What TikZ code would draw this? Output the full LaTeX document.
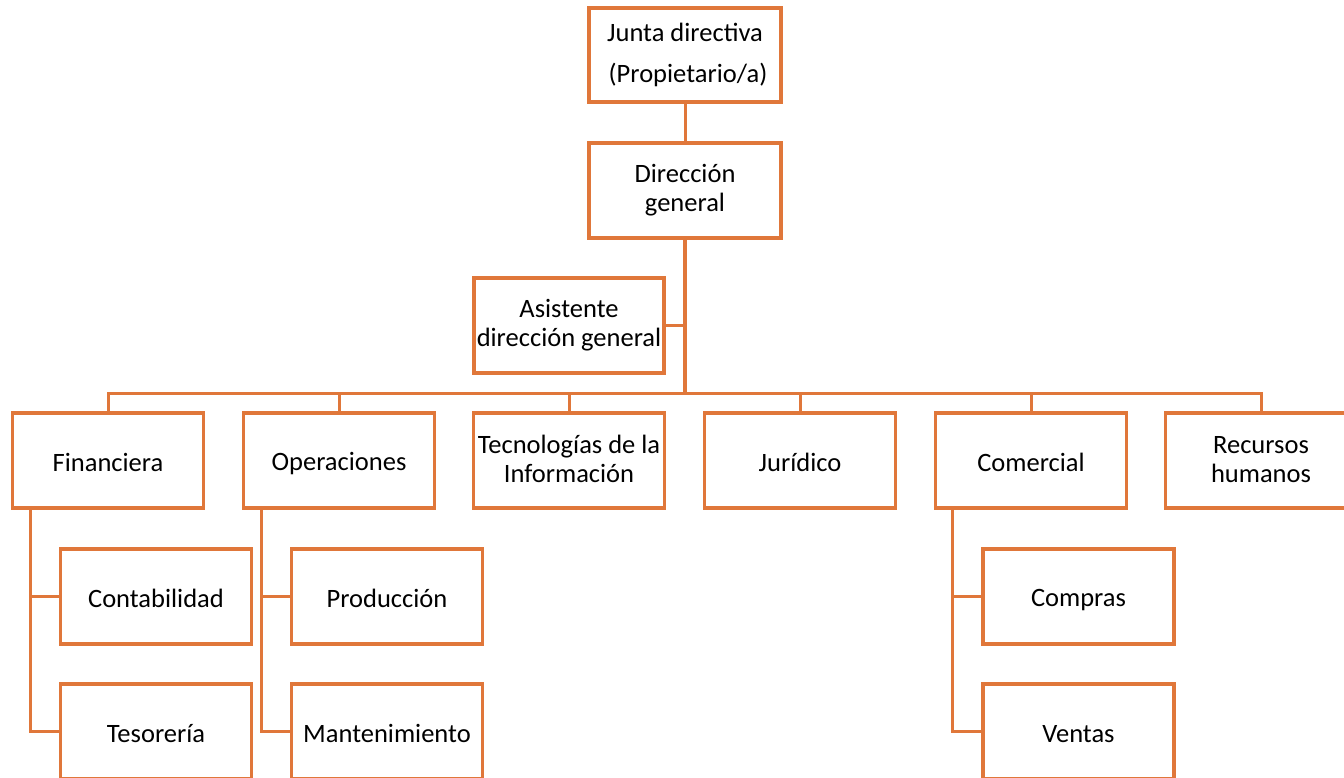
\documentclass[tikz,border=0pt]{standalone}
\usepackage{fontspec}
\setmainfont{Carlito}
\definecolor{org}{HTML}{E0773A}
\begin{document}
\begin{tikzpicture}[x=1pt,y=-1pt,
  box/.style={draw=org,line width=3.2pt,fill=white,minimum width=191pt,minimum height=95pt,inner sep=0pt,align=center,font=\fontsize{26.5}{29}\selectfont,execute at begin node=\rule{0pt}{23.5pt},execute at end node=\rule[-2.5pt]{0pt}{2.5pt}},
  conn/.style={draw=org,line width=3pt},
  trunk/.style={draw=org,line width=4.4pt}]
\useasboundingbox (0,0) rectangle (1344,778);
\clip (0,0) rectangle (1344,778);
\node[box,minimum width=192pt,minimum height=94pt] (junta) at (685,55) {Junta directiva\\[12pt] \ (Propietario/a)};
\node[box,minimum width=192pt] (dg) at (685,190.5) {Dirección\\general};
\node[box,minimum width=190pt] (asis) at (569,325.5) {Asistente\\dirección general};
\node[box] (fin) at (108,460.5) {Financiera};
\node[box] (ope) at (339,460.5) {Operaciones};
\node[box] (tec) at (569,460.5) {Tecnologías de la\\Información};
\node[box] (jur) at (800,460.5) {Jurídico};
\node[box] (com) at (1031,460.5) {Comercial};
\node[box] (rh) at (1261,460.5) {Recursos\\humanos};
\node[box] (cont) at (156,596.5) {Contabilidad};
\node[box] (teso) at (156,731.5) {Tesorería};
\node[box] (prod) at (387,596.5) {Producción};
\node[box] (mant) at (387,731.5) {Mantenimiento};
\node[box] (comp) at (1078.5,596.5) {Compras};
\node[box] (vent) at (1078.5,731.5) {Ventas};
\coordinate (bus) at (685,393);
\draw[conn] (junta.south) -- (dg.north);
\draw[trunk] (dg.south) -- (bus);
\draw[conn] (asis.east) -- (asis.east -| bus);
\draw[conn] (fin.north) -- (fin.north |- bus) -- (rh.north |- bus) -- (rh.north);
\foreach \n in {ope,tec,jur,com} \draw[conn] (\n.north) -- (\n.north |- bus);
\coordinate (finv) at ([xshift=20pt]fin.south west);
\coordinate (opev) at ([xshift=20pt]ope.south west);
\coordinate (comv) at ([xshift=19pt]com.south west);
\draw[conn] (finv) |- (teso.west);
\draw[conn] (finv |- cont.west) -- (cont.west);
\draw[conn] (opev) |- (mant.west);
\draw[conn] (opev |- prod.west) -- (prod.west);
\draw[conn] (comv) |- (vent.west);
\draw[conn] (comv |- comp.west) -- (comp.west);
\end{tikzpicture}
\end{document}
